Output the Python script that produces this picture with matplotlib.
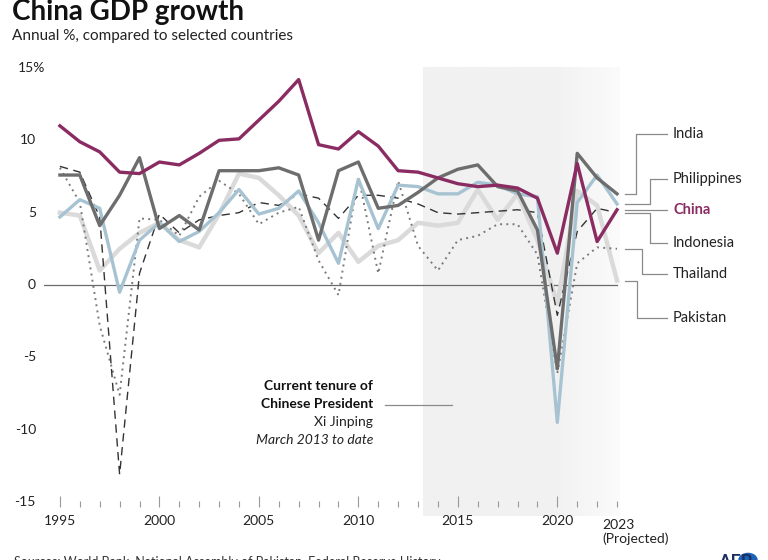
import numpy as np
import matplotlib.pyplot as plt
from matplotlib.colors import LinearSegmentedColormap
from matplotlib.patches import Circle

plt.rcParams['font.family'] = ['Lato', 'DejaVu Sans']

years = list(range(1995, 2024))
china = [11.0, 9.9, 9.2, 7.8, 7.7, 8.5, 8.3, 9.1, 10.0, 10.1, 11.4, 12.7, 14.2, 9.7, 9.4,
         10.6, 9.6, 7.9, 7.8, 7.4, 7.0, 6.8, 6.9, 6.7, 6.0, 2.2, 8.4, 3.0, 5.2]
india = [7.6, 7.6, 4.1, 6.2, 8.8, 3.9, 4.8, 3.8, 7.9, 7.9, 7.9, 8.1, 7.6, 3.1, 7.9,
         8.5, 5.3, 5.5, 6.4, 7.4, 8.0, 8.3, 6.8, 6.5, 3.8, -5.8, 9.1, 7.4, 6.3]
philippines = [4.7, 5.9, 5.3, -0.5, 3.1, 4.3, 3.0, 3.7, 5.0, 6.6, 4.9, 5.3, 6.5, 4.3, 1.5,
               7.3, 3.9, 6.9, 6.8, 6.3, 6.3, 7.1, 6.9, 6.3, 6.1, -9.5, 5.7, 7.6, 5.6]
indonesia = [8.2, 7.8, 4.7, -13.1, 0.8, 4.9, 3.6, 4.5, 4.8, 5.0, 5.7, 5.5, 6.3, 6.0, 4.6,
             6.2, 6.2, 6.0, 5.6, 5.0, 4.9, 5.0, 5.1, 5.2, 5.0, -2.1, 3.7, 5.3, 5.0]
thailand = [8.1, 5.7, -2.8, -7.6, 4.6, 4.5, 3.4, 6.1, 7.2, 6.3, 4.2, 5.0, 5.4, 1.7, -0.7,
            7.5, 0.8, 7.2, 2.7, 1.0, 3.1, 3.4, 4.2, 4.2, 2.1, -6.1, 1.5, 2.6, 2.5]
pakistan = [5.0, 4.8, 1.0, 2.5, 3.6, 4.3, 3.1, 2.6, 4.9, 7.7, 7.4, 6.2, 4.8, 2.2, 3.6,
            1.6, 2.7, 3.1, 4.3, 4.1, 4.3, 6.6, 4.5, 6.3, 3.1, -1.3, 6.5, 5.5, 0.3]

y_ticks = [10, 5, 0, -5, -10, -15]
x_major = [1995, 2000, 2005, 2010, 2015, 2020]
tenure_start = 2013.25

fig = plt.figure(figsize=(7.68, 5.6), dpi=100)
ax = fig.add_axes([44 / 768, 1 - 507 / 560, 576 / 768, 439 / 560])
ax.set_xlim(1994.2, 2023.15)
ax.set_ylim(-15.35, 15)
for s in ax.spines.values():
    s.set_visible(False)

# shaded tenure band, fading out to the right
grad = np.concatenate([np.zeros(65), np.linspace(0, 1, 35)]).reshape(1, -1)
cmap = LinearSegmentedColormap.from_list('fade', ['#f1f1f1', '#fbfbfb'])
ax.imshow(grad, extent=[tenure_start, 2023.15, -16.0, 15], aspect='auto',
          cmap=cmap, zorder=0, clip_on=False)

ax.axhline(0, color='#6a6a6a', lw=0.9, zorder=1, xmax=1 - 0.15 / 28.95)

ax.plot(years, pakistan, color='#dadada', lw=3.2, zorder=2)
ax.plot(years, thailand, color='#7a7a7a', lw=1.4, ls=(0, (1, 2.2)), zorder=3)
ax.plot(years, indonesia, color='#333333', lw=1.0, ls=(0, (6, 4)), zorder=3)
ax.plot(years, philippines, color='#a7c3d2', lw=2.4, zorder=4)
ax.plot(years, india, color='#6d6d6d', lw=2.4, zorder=5)
ax.plot(years, china, color='#8a2c62', lw=2.4, zorder=6)

# x axis ticks
ax.set_xticks(x_major)
ax.set_xticks(years, minor=True)
ax.set_xticklabels([str(y) for y in x_major])
ax.tick_params(axis='x', which='major', direction='in', length=8, width=0.8,
               color='#999999', labelsize=10, labelcolor='#222222', pad=6)
ax.tick_params(axis='x', which='minor', direction='in', length=4, width=0.8,
               color='#999999')
ax.text(2023 - 0.75, -16.15, '2023\n(Projected)', ha='left', va='top', fontsize=10,
        color='#222222', linespacing=1.2, clip_on=False)
ax.set_yticks([])

# y labels
ytr = ax.get_yaxis_transform()
for v in y_ticks:
    ax.text(-0.014, v, str(v), transform=ytr, ha='right', va='center',
            fontsize=10, color='#222222')
ax.text(0.002, 15, '15%', transform=ytr, ha='right', va='center',
        fontsize=10, color='#222222')

# right-side labels with elbow connectors
labels = [
    ('India', india[-1], 10.43, 2023.96, '#222222', 'normal'),
    ('Philippines', philippines[-1], 7.33, 2024.66, '#222222', 'normal'),
    ('China', china[-1], 5.18, None, '#8a2c62', 'bold'),
    ('Indonesia', indonesia[-1], 2.9, 2024.66, '#222222', 'normal'),
    ('Thailand', thailand[-1], 0.76, 2024.26, '#222222', 'normal'),
    ('Pakistan', pakistan[-1], -2.28, 2024.0, '#222222', 'normal'),
]
x0, x1, xt = 2023.4, 2025.5, 2025.82
for name, yv, ylab, xe, col, wt in labels:
    if xe is None:
        xs, ys = [x0, x1], [ylab, ylab]
    else:
        xs, ys = [x0, xe, xe, x1], [yv, yv, ylab, ylab]
    ax.plot(xs, ys, color='#8a8a8a', lw=0.9, clip_on=False)
    ax.text(xt, ylab, name, ha='left', va='center', fontsize=10.5, color=col,
            fontweight=wt, clip_on=False)

# tenure annotation
ax.plot([2011.34, 2014.7], [-8.3, -8.3], color='#8a8a8a', lw=0.9)
ax.text(2010.74, -6.98, 'Current tenure of', ha='right', va='center', fontsize=10,
        fontweight='bold', color='#111111')
ax.text(2010.74, -8.22, 'Chinese President', ha='right', va='center', fontsize=10,
        fontweight='bold', color='#111111')
ax.text(2010.74, -9.47, 'Xi Jinping', ha='right', va='center', fontsize=10,
        color='#222222')
ax.text(2010.74, -10.7, 'March 2013 to date', ha='right', va='center', fontsize=10,
        style='italic', color='#222222')

# titles
fig.text(12 / 768, 1 - 12 / 560, 'China GDP growth', ha='left', va='center',
         fontsize=20, fontweight='bold', color='#111111')
fig.text(12 / 768, 1 - 36 / 560, 'Annual %, compared to selected countries',
         ha='left', va='center', fontsize=11, color='#222222')

# footer (cut off at the bottom edge, as in the source graphic)
fig.text(14 / 768, 1 - 562 / 560, 'Sources: World Bank, National Assembly of Pakistan, '
         'Federal Reserve History', ha='left', va='center', fontsize=9, color='#333333')
fig.text(718 / 768, 1 - 563 / 560, 'AFP', ha='left', va='center', fontsize=13,
         fontweight='bold', color='#1c2f5e')
fig.patches.append(Circle((748 / 768, 1 - 560 / 560), 9 / 768, transform=fig.transFigure,
                          color='#1a63b8', clip_on=False))

fig.savefig('out.png', dpi=100)
